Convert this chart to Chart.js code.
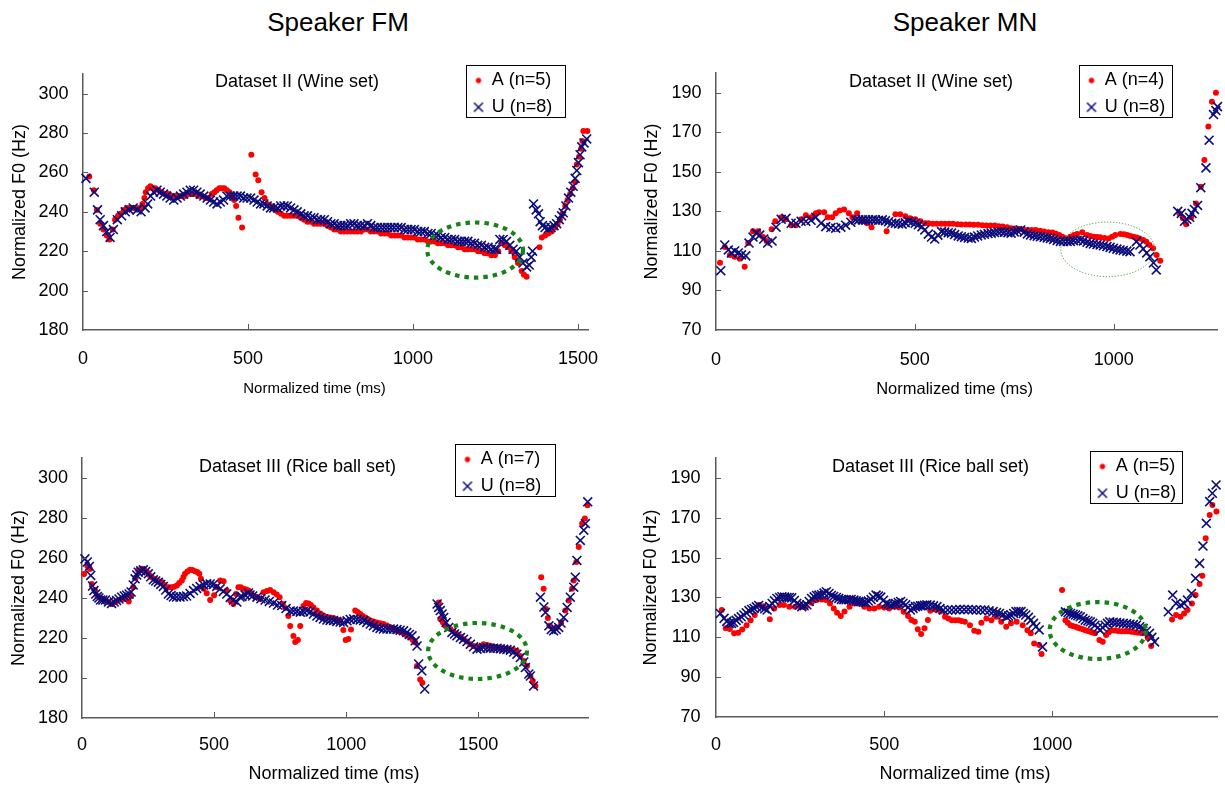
<!DOCTYPE html>
<html>
<head>
<meta charset="utf-8">
<script src="https://cdn.jsdelivr.net/npm/chart.js@4.4.1/dist/chart.umd.min.js"></script>
<style>
  html,body{margin:0;padding:0;background:#ffffff;}
  body{width:1225px;height:785px;position:relative;overflow:hidden;font-family:'Liberation Sans',Arial,sans-serif;}
  .spk{position:absolute;top:7px;font-size:26px;line-height:30px;color:#000;transform:translateX(-50%);white-space:nowrap;}
  canvas{position:absolute;}
</style>
</head>
<body>
<div class="spk" style="left:338px">Speaker FM</div>
<div class="spk" style="left:965px">Speaker MN</div>
<canvas id="c1"></canvas>
<canvas id="c2"></canvas>
<canvas id="c3"></canvas>
<canvas id="c4"></canvas>
<script>
// ---------- tick labels & texts ----------
const xTicksFM = [0, 500, 1000, 1500];
const xTicksMN = [0, 500, 1000];
const yTicksFM = [180, 200, 220, 240, 260, 280, 300];
const yTicksMN = [70, 90, 110, 130, 150, 170, 190];
const panelTitles = ['Dataset II (Wine set)', 'Dataset II (Wine set)', 'Dataset III (Rice ball set)', 'Dataset III (Rice ball set)'];
const labelsA = ['A (n=5)', 'A (n=4)', 'A (n=7)', 'A (n=5)'];
const labelsU = ['U (n=8)', 'U (n=8)', 'U (n=8)', 'U (n=8)'];
const yAxisTitle = 'Normalized F0 (Hz)';
const xAxisTitle = 'Normalized time (ms)';

// ---------- data: [normalized time (ms), normalized F0 (Hz)] ----------
const fmWineA = [[19,258],[33,251],[42,241],[52,234],[62,231],[72,228],[80,226],[90,231],[97,236],[106,238],[114,239],[124,241],[133,242],[143,242],[153,242],[163,242],[173,242],[180,244],[186,247],[190,250],[197,252],[204,253],[212,252],[219,252],[229,251],[239,250],[249,249],[259,249],[270,248],[280,248],[290,248],[300,248],[310,248],[320,249],[330,249],[340,249],[350,248],[360,248],[370,247],[380,247],[390,249],[398,250],[405,251],[413,252],[421,252],[428,252],[436,251],[444,250],[452,248],[458,246],[464,243],[471,237],[482,232],[510,269],[523,259],[531,256],[541,250],[550,247],[558,244],[568,243],[579,242],[590,240],[600,239],[610,238],[620,238],[630,238],[640,238],[650,238],[660,237],[670,236],[680,235],[690,235],[700,234],[710,234],[720,234],[731,234],[741,233],[751,232],[761,231],[771,231],[781,230],[791,230],[801,230],[811,230],[821,230],[831,230],[842,230],[852,231],[862,231],[872,230],[882,230],[893,230],[903,229],[913,229],[923,229],[934,228],[944,228],[954,228],[964,228],[974,227],[984,227],[994,227],[1004,227],[1014,226],[1024,226],[1035,226],[1045,225],[1055,225],[1065,225],[1075,224],[1085,224],[1096,224],[1106,223],[1116,223],[1126,223],[1136,222],[1146,222],[1156,221],[1166,221],[1177,221],[1187,221],[1197,220],[1207,220],[1217,219],[1227,219],[1237,218],[1248,218],[1258,220],[1268,224],[1278,223],[1288,222],[1298,220],[1308,217],[1318,214],[1329,210],[1336,208],[1344,207],[1383,222],[1390,227],[1400,228],[1410,229],[1420,230],[1430,232],[1438,234],[1445,236],[1453,239],[1461,243],[1468,246],[1476,249],[1484,252],[1491,255],[1496,264],[1503,268],[1509,272],[1513,276],[1516,281],[1528,281]];
const fmWineU = [[9,257],[34,250],[44,241],[52,236],[62,233],[72,230],[82,227],[92,231],[104,236],[117,238],[128,240],[140,241],[152,242],[164,241],[176,240],[188,242],[196,244],[205,248],[214,250],[224,251],[234,250],[244,249],[254,248],[264,247],[275,246],[285,247],[295,248],[305,249],[315,250],[325,251],[335,251],[345,250],[355,249],[366,248],[376,247],[386,246],[396,245],[406,244],[416,245],[426,246],[436,248],[446,248],[457,248],[467,248],[477,248],[487,247],[497,247],[508,247],[518,246],[528,245],[538,244],[548,244],[558,243],[568,242],[578,242],[589,242],[599,243],[609,243],[619,243],[629,242],[639,241],[649,240],[660,239],[670,238],[680,238],[690,237],[700,237],[710,236],[720,236],[731,236],[741,235],[751,234],[761,234],[771,233],[781,233],[791,233],[801,233],[811,234],[821,234],[831,233],[841,233],[852,233],[862,234],[872,233],[882,232],[892,232],[903,232],[913,232],[923,232],[933,232],[943,232],[954,232],[964,232],[974,231],[984,231],[994,231],[1004,231],[1014,230],[1024,230],[1034,230],[1045,229],[1055,229],[1065,228],[1075,228],[1085,227],[1096,227],[1106,226],[1116,226],[1126,226],[1136,225],[1146,225],[1156,225],[1166,225],[1176,224],[1186,224],[1196,223],[1207,223],[1217,222],[1227,222],[1237,221],[1247,221],[1253,221],[1263,226],[1273,226],[1283,225],[1293,223],[1303,221],[1313,220],[1323,217],[1333,214],[1344,212],[1352,213],[1358,217],[1362,220],[1365,244],[1373,241],[1380,239],[1385,235],[1392,233],[1400,232],[1410,231.5],[1418,232],[1427,233],[1435,234],[1443,236],[1450,238],[1455,239.5],[1463,243],[1471,247],[1478,250],[1485,253],[1491,257],[1496,261],[1501,265],[1506,269],[1511,273],[1518,275],[1526,277]];

const mnWineA = [[10,104],[22,112],[35,108],[47,107],[60,106],[72,102],[81,114],[93,120],[106,120],[118,117],[127,115],[140,121],[149,125],[164,127],[176,126],[189,123],[201,123],[214,126],[226,128],[239,127],[251,129],[259,129.5],[272,129.5],[281,127],[292,127],[301,129],[311,130.5],[322,131],[334,129],[343,127],[355,129],[368,125],[380,124],[391,122],[429,120],[451,128.5],[463,128.5],[476,127.5],[488,126.5],[501,126],[514,125],[526,124],[534,124],[545,123.7],[555,123.7],[566,123.7],[576,123.7],[586,123.7],[596,123.7],[607,123.5],[617,123.4],[628,123.4],[638,123.4],[648,123.3],[659,123.2],[670,123],[680,122.8],[690,122.8],[701,122.8],[711,122.5],[721,122.3],[732,122],[742,121.5],[752,121.3],[763,121.1],[773,120.8],[784,120.6],[794,120.6],[804,120.6],[815,120.2],[825,119.8],[836,119.5],[846,119.3],[855,118.7],[863,118.1],[871,117.2],[879,116.4],[891,117.2],[900,118],[908,118.5],[921,119.4],[933,118.1],[941,117.6],[950,117.2],[958,117],[966,116.9],[977,116.6],[987,116.3],[996,117.2],[1004,118.1],[1017,118.6],[1026,118.4],[1034,118.1],[1042,117.6],[1050,117.2],[1058,116.8],[1065,116.3],[1074,115.5],[1082,114.6],[1090,113],[1099,111.4],[1108,108],[1117,105],[1165,129],[1174,126.5],[1182,123.5],[1195,127],[1207,134],[1219,142.5],[1228,156],[1238,173],[1247,185.5],[1257,190]];
const mnWineU = [[12,100],[22,113],[31,110.5],[39,109],[47,110],[56,109],[64,108],[75,107.5],[83,114],[93,117],[101,119],[110,118],[120,116],[130,114],[141,115],[151,122],[164,126],[176,126.5],[189,124],[201,124],[214,125],[226,125],[239,125.5],[251,127],[264,124],[276,122.3],[289,121.8],[301,121.5],[314,122],[326,123],[339,124.5],[351,125.7],[359,125.7],[368,125.7],[376,125.7],[384,125.7],[393,125.7],[401,125.7],[409,125.5],[418,125.7],[426,125.3],[434,124.8],[442,124],[451,124],[459,123.7],[468,123.5],[476,124.2],[484,125],[492,124.5],[501,124],[509,123.2],[518,122.3],[525,120.6],[534,118.5],[542,117],[550,116],[558,118],[567,119.8],[575,119.5],[584,119.2],[592,119],[600,118.3],[609,117.6],[617,117.2],[625,116.8],[634,116.5],[642,116.3],[650,117],[658,117.6],[667,118.1],[675,118.4],[684,118.8],[692,119],[700,119.3],[709,119.6],[717,119.8],[725,119.5],[734,119.2],[742,119],[750,119.6],[758,120.2],[766,120.6],[775,119.5],[783,118.6],[791,118.1],[800,117.7],[808,117.4],[816,117.2],[825,116.9],[833,116.6],[841,116.3],[849,115.8],[858,115.3],[866,114.8],[874,114.8],[883,114.8],[891,114.8],[899,115.2],[908,115.4],[916,115.6],[924,115],[933,114.4],[941,113.8],[949,113.5],[958,113.2],[966,113],[974,112.6],[983,112.2],[991,111.8],[999,111.3],[1008,110.9],[1016,110.5],[1024,110.2],[1033,109.9],[1041,109.6],[1057,114.7],[1066,113],[1074,111],[1083,109],[1091,107],[1100,104],[1107,100.4],[1161,130],[1170,129],[1178,125],[1184,126],[1191,127],[1197,129],[1203,131],[1211,133],[1219,142],[1232,152],[1240,166],[1251,179],[1257,181],[1261,183]];

const fmRiceA = [[8,252],[20,256],[30,254.5],[37,247],[49,244],[58,241],[68,240],[78,239.5],[89,239],[101,238],[114,237],[126,238],[139,239],[151,239.5],[164,239.5],[177,238.3],[186,241],[194,245.4],[203,250],[213,253.8],[227,254.6],[236,254],[246,253],[255,251.5],[264,250.4],[274,249.5],[283,248.8],[292,248.3],[302,248],[311,246.5],[321,245.4],[330,245.4],[340,245.4],[349,245.6],[359,246.2],[368,247.5],[378,248.8],[384,250.5],[390,252.1],[399,253.3],[409,254.1],[418,254],[428,253.4],[436,253],[444,252.1],[450,249.6],[460,244.6],[472,242.4],[485,239],[500,241.4],[510,245.4],[523,248.8],[536,248.4],[548,243.7],[561,238.7],[573,237],[583,242],[592,245.4],[601,245.4],[611,244.6],[621,244.2],[630,243.7],[640,242.4],[649,241.2],[662,240.4],[674,239.6],[687,242.9],[700,243.5],[712,244],[725,242.9],[737,241.7],[748,240.4],[760,237],[769,235],[781,231],[788,226],[800,221],[807,218],[817,219],[826,226],[838,236],[848,237.5],[857,237.3],[866,236.5],[876,235.3],[889,233.7],[902,232.3],[914,231.2],[927,230.5],[939,230.3],[952,230],[964,229.3],[977,228.7],[989,224],[998,219],[1008,219.5],[1018,224.3],[1034,233.7],[1043,233],[1053,232],[1062,231],[1072,230.3],[1081,229.5],[1091,228.7],[1103,228.2],[1116,227.8],[1128,227.4],[1141,227],[1154,226.2],[1167,225.3],[1179,224.5],[1192,223.6],[1204,223],[1217,222.3],[1229,221.3],[1242,220.3],[1252,219],[1261,217.8],[1268,206],[1280,199.3],[1288,197.6],[1350,237.8],[1356,229.5],[1366,227.8],[1375,226.1],[1385,225.3],[1394,224.5],[1406,223.3],[1419,222],[1432,220.7],[1444,219.4],[1457,218.2],[1470,216.9],[1482,216],[1495,215.2],[1508,215.9],[1520,216.9],[1533,216.5],[1545,216.1],[1558,215.6],[1571,215.2],[1583,215],[1596,214.9],[1608,214.6],[1621,214.4],[1634,214],[1646,213.5],[1659,211],[1672,208.5],[1684,206],[1697,201],[1706,198.5],[1716,196],[1738,250.4],[1747,244.6],[1756,234.5],[1763,230],[1770,226.1],[1783,224.5],[1798,225.3],[1813,227.8],[1829,233.7],[1842,238.7],[1855,244.6],[1861,248.8],[1871,258],[1880,265.5],[1893,277.2],[1903,279.7],[1913,286.4]];
const fmRiceU = [[11,259.6],[20,258],[28,255.8],[33,251.3],[40,246],[45,243.7],[52,242],[58,240.7],[64,240],[70,239],[79,239],[89,239],[100,238],[112,237.3],[122,238],[131,238.7],[140,239.5],[150,240.4],[160,241],[169,241.4],[178,242],[186,243],[194,246.5],[201,249.6],[207,251.5],[213,252.9],[222,253.6],[232,254.1],[241,253.2],[251,252.1],[260,250.6],[270,249.1],[279,248.5],[289,247.9],[298,246.8],[308,245.8],[317,244],[327,242],[337,241.2],[346,240.5],[358,240.5],[371,240.5],[384,240.7],[396,241],[409,242.3],[422,243.7],[434,244.8],[447,245.7],[460,246.5],[472,247.1],[485,247],[497,246.8],[510,245.8],[523,244.6],[535,243.3],[548,242],[561,240.3],[573,239],[586,238],[598,240.5],[605,240.7],[617,241.6],[630,242.5],[636,241.5],[646,241],[662,240.4],[677,239.6],[693,239],[709,238.3],[725,237.5],[740,236.5],[756,236.2],[772,234.7],[788,233.5],[800,233.5],[813,233.3],[826,232.9],[838,233.3],[851,233.6],[863,233],[876,232],[889,231],[901,230.3],[914,229.5],[927,229],[939,228.8],[952,228.7],[964,228.3],[977,228],[990,227.8],[1003,228.6],[1015,229.3],[1028,229.5],[1041,229.3],[1053,229],[1066,228.7],[1078,227.8],[1091,227],[1103,226.1],[1116,225.3],[1128,224.8],[1141,224.5],[1154,224.5],[1166,224.5],[1179,224.5],[1192,224.2],[1204,223.9],[1217,223.6],[1229,222.7],[1239,221.8],[1249,221.1],[1261,218.6],[1268,216],[1274,207],[1286,203.6],[1297,194.5],[1344,237],[1350,235.3],[1356,233.7],[1363,232],[1369,230.3],[1378,227.8],[1388,225.3],[1400,222.8],[1410,222],[1419,221.1],[1432,220.2],[1444,219.4],[1457,218.2],[1470,216.9],[1482,215.6],[1495,214.4],[1508,214.8],[1520,215.2],[1533,215],[1545,214.9],[1558,214.9],[1571,214.9],[1583,214.6],[1596,214.4],[1608,214.2],[1621,213.9],[1634,213],[1646,211.9],[1659,210.2],[1672,208],[1678,205.2],[1691,202],[1697,201],[1709,196],[1735,240.4],[1748,235.5],[1754,232.8],[1767,226.1],[1776,224.2],[1785,223.6],[1795,224.2],[1804,225.3],[1813,227.5],[1823,230.3],[1836,235.3],[1848,240.4],[1861,245.4],[1867,250.4],[1873,258.8],[1886,268.8],[1899,273.9],[1905,277.2],[1914,288.1]];

const mnRiceA = [[17,123.7],[29,114.5],[41,114.2],[54,112],[66,112.3],[78,113.9],[91,116.1],[103,118.6],[115,121.2],[127,126.2],[142,125.6],[160,119.1],[173,124.5],[189,126.2],[202,126.2],[218,125.4],[235,125.4],[252,125.4],[267,125.4],[284,127.4],[299,128.7],[314,129],[327,128.7],[339,127],[350,124.5],[360,122.3],[371,120.7],[382,123],[397,125.4],[412,127],[426,127],[441,125.4],[456,124.5],[471,124.5],[485,125.4],[500,125],[515,124.5],[529,125.4],[544,125],[558,122.8],[571,120.7],[581,118.7],[591,117.8],[600,114],[610,111.6],[620,114.5],[630,118.7],[637,123.3],[652,124],[667,122.9],[681,120.3],[691,119.4],[701,118.6],[711,118.6],[721,118.6],[730,118.2],[740,117.8],[755,116.1],[768,113.3],[780,112.8],[789,117.3],[804,119.5],[819,118.6],[833,120.3],[848,117.8],[863,115.3],[877,117],[894,117.8],[912,116.1],[926,113.6],[936,112],[946,106.9],[961,106.1],[968,101.6],[1029,133.7],[1039,118.6],[1046,117.3],[1054,116.1],[1061,115.7],[1069,115.3],[1076,114.8],[1083,114.4],[1091,114],[1098,113.6],[1106,113.2],[1113,112.8],[1120,112.4],[1127,112],[1140,108.6],[1150,107.8],[1160,111.1],[1168,112.5],[1176,113.6],[1186,113.4],[1196,113.2],[1206,113.1],[1216,113.1],[1225,113],[1235,112.8],[1245,112.6],[1255,112.3],[1265,112.2],[1275,112],[1284,109.6],[1294,105.6],[1356,119],[1368,121.2],[1381,120.3],[1392,122],[1402,123.7],[1415,127],[1426,131.2],[1438,136.7],[1446,140.9],[1456,159.7],[1468,171.4],[1476,176.4],[1488,173.1]];
const mnRiceU = [[13,122],[24,119.5],[32,118],[39,117],[46,117],[52,117.5],[60,118.5],[67,119.4],[75,120.3],[83,121.2],[90,122.3],[98,123.4],[106,124],[113,124.5],[120,125.3],[127,126],[137,125],[145,124.3],[152,123.7],[160,125.5],[167,127],[174,128.3],[181,129.5],[189,130],[196,130.4],[204,130.2],[211,130],[218,130],[225,129.8],[233,128.5],[240,127],[248,126.2],[255,125.4],[262,125.8],[270,126.3],[277,128],[284,129.5],[292,130.3],[299,131],[306,131.2],[314,131.4],[321,132.2],[328,132.9],[336,132],[343,131],[350,130.5],[358,130],[365,129.5],[373,129],[380,128.9],[387,128.8],[395,128.9],[402,129],[410,128.7],[417,128.3],[424,128],[431,127.8],[439,127.6],[446,127.4],[453,128.2],[461,129],[468,130.1],[476,131.2],[483,130.7],[490,130.2],[498,128.6],[505,127],[512,126.6],[520,126.2],[527,126.6],[534,127],[542,127.5],[549,128],[556,127.1],[564,126.3],[571,125],[578,123.7],[586,124.5],[593,125.4],[600,125.6],[608,125.8],[613,125.8],[620,126.1],[627,126.3],[637,126.2],[647,125.8],[657,125.4],[666,124.5],[676,123.7],[689,123.7],[701,123.7],[713,123.8],[725,124],[738,124],[750,124],[762,123.8],[774,123.7],[787,123.7],[799,123.7],[812,123.3],[824,122.9],[834,122.4],[843,122],[853,121.2],[863,120.3],[870,120.7],[877,121.2],[885,122],[892,122.9],[900,122.9],[907,122.9],[914,122],[921,121.2],[929,120],[936,118.6],[944,117],[951,115.3],[961,113.7],[971,105.2],[1039,122.8],[1047,122.4],[1054,122],[1062,121.6],[1069,121.2],[1076,120.8],[1083,120.3],[1091,119.4],[1098,118.6],[1106,118.2],[1113,117.8],[1120,117],[1127,116.1],[1135,114.8],[1142,113.6],[1150,114.8],[1157,116.1],[1164,117],[1171,117.8],[1181,117.6],[1191,117.4],[1201,117.2],[1211,117],[1221,116.8],[1231,116.6],[1241,116.4],[1250,116.1],[1260,115.3],[1270,114.4],[1280,113.2],[1289,112],[1296,110],[1304,107.7],[1345,122.8],[1358,131.2],[1368,127],[1382,126.2],[1392,127],[1402,128.7],[1414,132],[1426,139.6],[1438,147.1],[1448,155.8],[1458,167.2],[1468,178.1],[1476,182.3],[1487,186.5]];

// highlighted regions (ellipses) in data units: centre time, centre F0, half-width (ms), half-height (Hz)
const highlightFmWine = [1188, 220.6, 145, 14];
const highlightMnWine = [985, 110.8, 118, 13.8];
const highlightFmRice = [1497, 213.5, 187, 14];
const highlightMnRice = [1135, 113.4, 143, 14.3];

// ---------- layout & styles ----------
const FONT = "'Liberation Sans', Arial, sans-serif";
const AXIS_COLOR = '#5a5a5a';
const RED = '#ff0000';
const NAVY = '#0c0c7a';
const LEGEND_SIZE = 18;
const ellipseStyles = {
  bold: {color:'#178217', width:4.2, dash:[4.5,5]},
  thin: {color:'#3a9a3a', width:1, dash:[1.2,1.8]}
};
const layoutCfg = [
  {canvas:{left:0, top:40, width:625, height:366}, area:{l:83,r:588,t:74,b:330}, xMax:1530, yMin:180, yMax:310,
   titleAt:{x:215,y:82}, titleSize:18, legendBox:{x:466,y:65,w:99,h:52},
   xTitleSize:15, xTitleShift:-21, xTitlePad:8, yTitlePad:9.2, xTickPad:18.5, yTickPad:14.5, ellipse:'bold'},
  {canvas:{left:632, top:40, width:593, height:366}, area:{l:716,r:1222,t:73,b:330}, xMax:1260, yMin:70, yMax:200,
   titleAt:{x:849,y:82}, titleSize:18, legendBox:{x:1079,y:65,w:93,h:52},
   xTitleSize:16.5, xTitleShift:-12, xTitlePad:7.1, yTitlePad:8.9, xTickPad:19, yTickPad:14.5, ellipse:'thin'},
  {canvas:{left:0, top:425, width:625, height:360}, area:{l:82,r:588,t:458,b:718}, xMax:1915, yMin:180, yMax:310,
   titleAt:{x:199,y:467}, titleSize:18, legendBox:{x:455,y:444,w:100,h:52},
   xTitleSize:18, xTitleShift:-1, xTitlePad:0, yTitlePad:8.4, xTickPad:16.2, yTickPad:14, ellipse:'bold'},
  {canvas:{left:632, top:425, width:593, height:360}, area:{l:716,r:1222,t:458,b:717}, xMax:1490, yMin:70, yMax:200,
   titleAt:{x:832,y:467}, titleSize:18, legendBox:{x:1090,y:451,w:92,h:52},
   xTitleSize:18, xTitleShift:-1.5, xTitlePad:0, yTitlePad:8, xTickPad:17, yTickPad:15.5, ellipse:'bold'}
];

function makeIcon(kind) {
  const c = document.createElement('canvas');
  const g = c.getContext('2d');
  if (kind === 'circle') {
    c.width = 8; c.height = 8;
    g.fillStyle = RED; g.beginPath(); g.arc(4, 4, 2.7, 0, Math.PI * 2); g.fill();
  } else {
    c.width = 12; c.height = 12;
    g.strokeStyle = NAVY; g.lineWidth = 1.5; g.beginPath();
    g.moveTo(1.5, 1.5); g.lineTo(10.5, 10.5); g.moveTo(10.5, 1.5); g.lineTo(1.5, 10.5); g.stroke();
  }
  return c;
}
const legendIcons = {circle: makeIcon('circle'), crossRot: makeIcon('crossRot')};

function makeDecor(cfg, highlight) {
  const titleLH = cfg.titleSize * 1.2;
  return {
    id: 'decor',
    afterLayout(chart) {
      const t = chart.titleBlock;
      if (t) {
        t.left = cfg.titleAt.x - cfg.canvas.left; t.right = t.left + 400;
        t.top = cfg.titleAt.y - cfg.canvas.top - titleLH / 2; t.bottom = t.top + titleLH;
      }
      const lg = chart.legend;
      if (lg) {
        lg.left = cfg.legendBox.x - cfg.canvas.left - 0.4;
        lg.top = cfg.legendBox.y - cfg.canvas.top - 2.2;
        lg.width = 200; lg.height = 120;
        lg.right = lg.left + 200; lg.bottom = lg.top + 120;
      }
      const sx = chart.scales.x;
      if (sx && !sx._shifted) {
        const orig = sx.drawTitle;
        sx.drawTitle = function () {
          const c = this.ctx; c.save(); c.translate(cfg.xTitleShift, 0); orig.call(this); c.restore();
        };
        sx._shifted = true;
      }
    },
    afterDatasetsDraw(chart) {
      const xs = chart.scales.x, ys = chart.scales.y, ctx = chart.ctx;
      const st = ellipseStyles[cfg.ellipse];
      const cx = xs.getPixelForValue(highlight[0]), cy = ys.getPixelForValue(highlight[1]);
      const rx = Math.abs(xs.getPixelForValue(highlight[0] + highlight[2]) - cx);
      const ry = Math.abs(ys.getPixelForValue(highlight[1] + highlight[3]) - cy);
      ctx.save();
      ctx.beginPath(); ctx.ellipse(cx, cy, rx, ry, 0, 0, Math.PI * 2);
      ctx.setLineDash(st.dash); ctx.lineWidth = st.width; ctx.strokeStyle = st.color; ctx.lineCap = 'butt';
      ctx.stroke();
      ctx.restore();
    },
    afterDraw(chart) {
      const ctx = chart.ctx, xs = chart.scales.x, ys = chart.scales.y, a = chart.chartArea;
      ctx.save();
      ctx.strokeStyle = AXIS_COLOR; ctx.lineWidth = 1;
      ctx.beginPath();
      xs.ticks.forEach(t => {
        if (t.value === xs.min) return;
        const px = Math.round(xs.getPixelForValue(t.value)) + 0.5;
        ctx.moveTo(px, a.bottom); ctx.lineTo(px, a.bottom - 6);
      });
      ys.ticks.forEach(t => {
        if (t.value === ys.min) return;
        const py = Math.round(ys.getPixelForValue(t.value)) + 0.5;
        ctx.moveTo(a.left, py); ctx.lineTo(a.left + 5, py);
      });
      ctx.stroke();
      const b = cfg.legendBox;
      ctx.strokeStyle = '#000'; ctx.lineWidth = 1;
      ctx.strokeRect(Math.round(b.x - cfg.canvas.left) + 0.5, Math.round(b.y - cfg.canvas.top) + 0.5, b.w, b.h);
      ctx.restore();
    }
  };
}

function buildPanel(i, dataA, dataU, xTicks, yTicks, highlight) {
  const cfg = layoutCfg[i];
  const cv = document.getElementById('c' + (i + 1));
  cv.width = cfg.canvas.width; cv.height = cfg.canvas.height;
  cv.style.left = cfg.canvas.left + 'px'; cv.style.top = cfg.canvas.top + 'px';
  cv.style.width = cfg.canvas.width + 'px'; cv.style.height = cfg.canvas.height + 'px';
  const titleLH = cfg.titleSize * 1.2;
  const padTop = (cfg.area.t - cfg.canvas.top) - titleLH;
  const padRight = cfg.canvas.left + cfg.canvas.width - cfg.area.r;
  const yW = cfg.area.l - cfg.canvas.left;
  const xH = cfg.canvas.top + cfg.canvas.height - cfg.area.b;
  new Chart(cv, {
    type: 'scatter',
    data: {
      datasets: [
        {label: labelsA[i], data: dataA.map(p => ({x: p[0], y: p[1]})), pointStyle: 'circle', pointRadius: 3,
         backgroundColor: RED, borderColor: RED, borderWidth: 0, order: 1, clip: false},
        {label: labelsU[i], data: dataU.map(p => ({x: p[0], y: p[1]})), pointStyle: 'crossRot', pointRadius: 6.3,
         backgroundColor: NAVY, borderColor: NAVY, borderWidth: 1.6, order: 0, clip: false}
      ]
    },
    options: {
      responsive: false, animation: false, events: [], devicePixelRatio: 1,
      layout: {padding: {left: 0, right: padRight, top: padTop, bottom: 0}},
      scales: {
        x: {
          type: 'linear', min: 0, max: cfg.xMax,
          afterBuildTicks: s => { s.ticks = xTicks.map(v => ({value: v})); },
          afterFit: s => { s.height = xH; },
          grid: {display: false, drawTicks: false},
          border: {display: true, color: AXIS_COLOR, width: 1.5},
          ticks: {padding: cfg.xTickPad, color: '#000', font: {family: FONT, size: 18}, autoSkip: false, maxRotation: 0,
                  callback: v => String(v)},
          title: {display: true, text: xAxisTitle, color: '#000', font: {family: FONT, size: cfg.xTitleSize},
                  padding: {top: 0, bottom: cfg.xTitlePad}}
        },
        y: {
          type: 'linear', min: cfg.yMin, max: cfg.yMax,
          afterBuildTicks: s => { s.ticks = yTicks.map(v => ({value: v})); },
          afterFit: s => { s.width = yW; },
          grid: {display: false, drawTicks: false},
          border: {display: true, color: AXIS_COLOR, width: 1.5},
          ticks: {padding: cfg.yTickPad, color: '#000', font: {family: FONT, size: 18}, autoSkip: false,
                  callback: v => String(v)},
          title: {display: true, text: yAxisTitle, color: '#000', font: {family: FONT, size: 18},
                  padding: {top: cfg.yTitlePad, bottom: 0}}
        }
      },
      plugins: {
        tooltip: {enabled: false},
        title: {display: true, text: panelTitles[i], align: 'start', color: '#000',
                font: {family: FONT, size: cfg.titleSize, weight: 'normal'}, padding: 0},
        legend: {
          display: true, position: 'chartArea', align: 'start',
          labels: {
            usePointStyle: true, pointStyleWidth: 8.4, padding: 8.7, color: '#000',
            font: {family: FONT, size: LEGEND_SIZE},
            generateLabels: chart => chart.data.datasets.map((ds, k) => ({
              text: ds.label, fillStyle: ds.backgroundColor, strokeStyle: ds.borderColor, lineWidth: 0,
              pointStyle: legendIcons[ds.pointStyle], hidden: false, datasetIndex: k, fontColor: '#000', textAlign: 'left'
            }))
          }
        }
      }
    },
    plugins: [makeDecor(cfg, highlight)]
  });
}

buildPanel(0, fmWineA, fmWineU, xTicksFM, yTicksFM, highlightFmWine);
buildPanel(1, mnWineA, mnWineU, xTicksMN, yTicksMN, highlightMnWine);
buildPanel(2, fmRiceA, fmRiceU, xTicksFM, yTicksFM, highlightFmRice);
buildPanel(3, mnRiceA, mnRiceU, xTicksMN, yTicksMN, highlightMnRice);
</script>
</body>
</html>
